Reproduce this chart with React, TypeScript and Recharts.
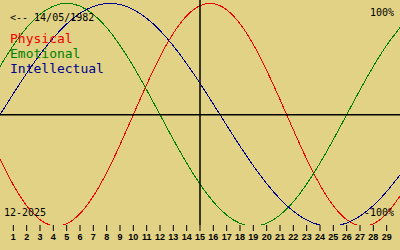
import React from 'react';
import { LineChart, Line, XAxis, YAxis, ReferenceLine } from 'recharts';

const days = [0, 1, 2, 3, 4, 5, 6, 7, 8, 9, 10, 11, 12, 13, 14, 15, 16, 17, 18, 19, 20, 21, 22, 23, 24, 25, 26, 27, 28, 29, 30];
const physical = [-0.398, -0.631, -0.817, -0.942, -0.998, -0.979, -0.888, -0.731, -0.520, -0.270, 0, 0.270, 0.520, 0.731, 0.888, 0.979, 0.998, 0.942, 0.817, 0.631, 0.398, 0.136, -0.136, -0.398, -0.631, -0.817, -0.942, -0.998, -0.979, -0.888, -0.731];
const emotional = [0.434, 0.623, 0.782, 0.901, 0.975, 1, 0.975, 0.901, 0.782, 0.623, 0.434, 0.223, 0, -0.223, -0.434, -0.623, -0.782, -0.901, -0.975, -1, -0.975, -0.901, -0.782, -0.623, -0.434, -0.223, 0, 0.223, 0.434, 0.623, 0.782];
const intellectual = [0, 0.189, 0.372, 0.541, 0.690, 0.815, 0.910, 0.972, 0.999, 0.990, 0.945, 0.866, 0.756, 0.618, 0.458, 0.282, 0.095, -0.095, -0.282, -0.458, -0.618, -0.756, -0.866, -0.945, -0.990, -0.999, -0.972, -0.910, -0.815, -0.690, -0.541];
const tickDays = [1, 2, 3, 4, 5, 6, 7, 8, 9, 10, 11, 12, 13, 14, 15, 16, 17, 18, 19, 20, 21, 22, 23, 24, 25, 26, 27, 28, 29];
const today = 15;
const birthLabel = '<-- 14/05/1982';
const monthLabel = '12-2025';
const seriesNames = ['Physical', 'Emotional', 'Intellectual'];

const RED = '#f00000';
const GREEN = '#008000';
const BLUE = '#000090';
const BG = '#e1d285';

const data = days.map((d, i) => ({
  day: d,
  physical: physical[i],
  emotional: emotional[i],
  intellectual: intellectual[i],
}));

export default function App() {
  const mono = 'DejaVu Sans Mono, monospace';
  const lineProps = {
    type: 'natural' as const,
    strokeWidth: 1,
    dot: false,
    activeDot: false,
    isAnimationActive: false,
    shapeRendering: 'crispEdges',
  };
  return (
    <div style={{ position: 'absolute', left: 0, top: 0, width: 400, height: 250, background: BG }}>
      <LineChart width={400} height={250} data={data} margin={{ top: 0, right: 0, bottom: 0, left: 0 }}>
        <XAxis
          dataKey="day"
          type="number"
          domain={[0, 30]}
          ticks={tickDays}
          interval={0}
          axisLine={false}
          tickSize={6}
          tickMargin={3}
          height={25}
          tickLine={{ stroke: '#000', strokeWidth: 1 }}
          tick={{ fontSize: 9, fontFamily: 'Liberation Sans, Arial, sans-serif', fontWeight: 'bold', fill: '#000' }}
        />
        <YAxis hide type="number" domain={[-0.99, 1.03]} allowDataOverflow />
        <Line {...lineProps} dataKey="physical" stroke={RED} />
        <Line {...lineProps} dataKey="emotional" stroke={GREEN} />
        <Line {...lineProps} dataKey="intellectual" stroke={BLUE} />
        <ReferenceLine y={0} stroke="#000" strokeWidth={1.5} />
        <ReferenceLine x={today} stroke="#000" strokeWidth={1.5} />
      </LineChart>
      <svg width={400} height={250} style={{ position: 'absolute', left: 0, top: 0, pointerEvents: 'none' }}>
        <text x={10} y={21} fontFamily={mono} fontSize={10} fill="#000">{birthLabel}</text>
        <text x={10} y={43} fontFamily={mono} fontSize={13} fill={RED}>{seriesNames[0]}</text>
        <text x={10} y={58} fontFamily={mono} fontSize={13} fill={GREEN}>{seriesNames[1]}</text>
        <text x={10} y={73} fontFamily={mono} fontSize={13} fill={BLUE}>{seriesNames[2]}</text>
        <text x={394} y={16} fontFamily={mono} fontSize={10} fill="#000" textAnchor="end">100%</text>
        <text x={394} y={216} fontFamily={mono} fontSize={10} fill="#000" textAnchor="end">-100%</text>
        <text x={4} y={216} fontFamily={mono} fontSize={10} fill="#000">{monthLabel}</text>
      </svg>
    </div>
  );
}
